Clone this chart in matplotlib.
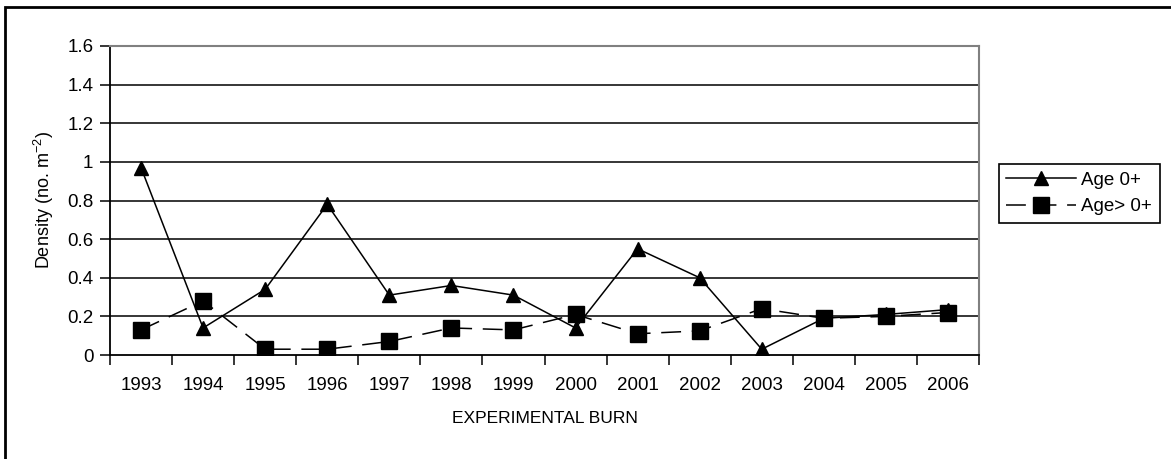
import numpy as np
import matplotlib.pyplot as plt
from matplotlib.patches import Rectangle

plt.rcParams['font.family'] = ['Liberation Sans', 'DejaVu Sans']
plt.rcParams['mathtext.default'] = 'regular'
plt.rcParams['axes.unicode_minus'] = False

# burn years and mean densities (no. per m^2)
years = ['1993', '1994', '1995', '1996', '1997', '1998', '1999',
         '2000', '2001', '2002', '2003', '2004', '2005', '2006']
age0 = [0.97, 0.14, 0.34, 0.78, 0.31, 0.36, 0.31,
        0.14, 0.55, 0.40, 0.03, 0.19, 0.21, 0.235]
age_gt0 = [0.13, 0.28, 0.03, 0.03, 0.07, 0.14, 0.13,
           0.21, 0.11, 0.125, 0.24, 0.19, 0.20, 0.22]
yticks = [0, 0.2, 0.4, 0.6, 0.8, 1.0, 1.2, 1.4, 1.6]
ylabels = ['0', '0.2', '0.4', '0.6', '0.8', '1', '1.2', '1.4', '1.6']

W, H = 1171, 459
fig = plt.figure(figsize=(W / 100, H / 100), dpi=100)
ax = fig.add_axes([110 / W, (H - 355) / H, 869 / W, 309 / H])

x = np.arange(len(years))

# horizontal gridlines
for v in yticks[1:-1]:
    ax.axhline(v, color='black', lw=1.1, zorder=1)

ax.plot(x, age0, color='black', lw=1.1, marker='^', ms=10,
        label='Age 0+', zorder=3)
ax.plot(x, age_gt0, color='black', lw=1.1, ls=(0, (13, 7)), marker='s',
        ms=12, label='Age> 0+', zorder=4)

ax.set_xlim(-0.5, len(years) - 0.5)
ax.set_ylim(0, 1.6)

# category ticks sit between years, labels centred on each year
ax.set_xticks(np.arange(-0.5, len(years), 1.0))
ax.set_xticklabels([])
ax.set_xticks(x, minor=True)
ax.set_xticklabels(years, minor=True)
ax.tick_params(axis='x', which='major', direction='out', length=7, width=1.1)
ax.tick_params(axis='x', which='minor', length=0, pad=16, labelsize=13.5)

ax.set_yticks(yticks)
ax.set_yticklabels(ylabels)
ax.tick_params(axis='y', direction='out', length=7, width=1.1,
               pad=5, labelsize=13.5)

for s in ['left', 'bottom']:
    ax.spines[s].set_color('black')
    ax.spines[s].set_linewidth(1.3)
for s in ['top', 'right']:
    ax.spines[s].set_color('#808080')
    ax.spines[s].set_linewidth(1.5)

ax.set_ylabel('Density (no. m$^{-2}$)', fontsize=13, labelpad=8)
ax.set_xlabel('EXPERIMENTAL BURN', fontsize=12.5, labelpad=12)

leg = ax.legend(loc='upper left', bbox_to_anchor=(1.023, 0.618),
                borderaxespad=0, fontsize=13.5, handlelength=3.7,
                handletextpad=0.3, fancybox=False, framealpha=1,
                edgecolor='black', borderpad=0.4, labelspacing=0.5)
leg.get_frame().set_linewidth(1.2)

# outer chart border (only left and top edges fall inside the image)
fig.patches.append(Rectangle((5 / W, -0.2), 1.2, 1.2 - 7 / H,
                             transform=fig.transFigure, fill=False,
                             edgecolor='black', lw=2))

fig.savefig('out.png', dpi=100)
